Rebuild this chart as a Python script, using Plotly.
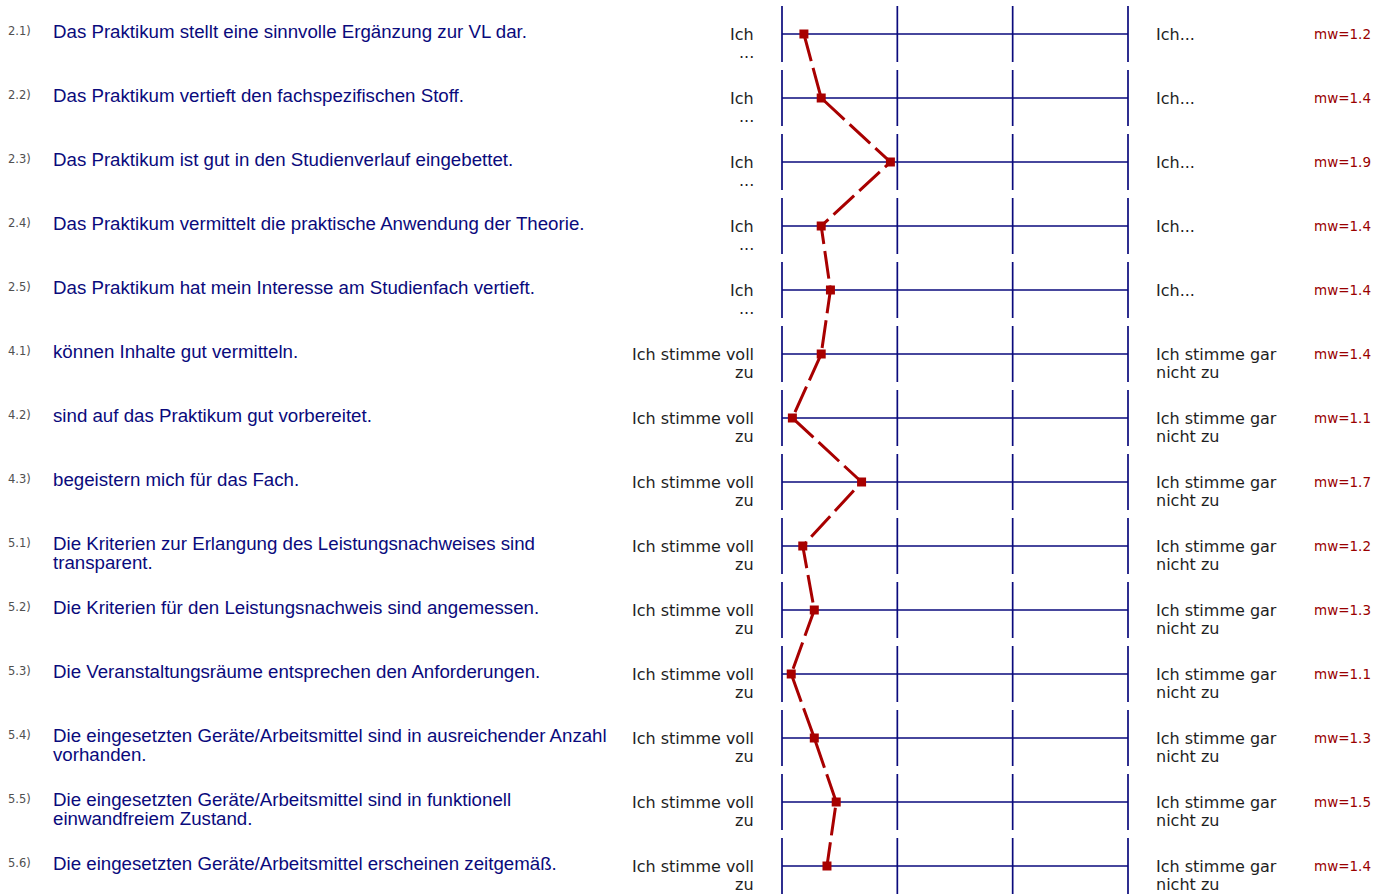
import plotly.graph_objects as go

# ---------------- data ----------------
item_numbers = ["2.1)", "2.2)", "2.3)", "2.4)", "2.5)", "4.1)", "4.2)", "4.3)",
                "5.1)", "5.2)", "5.3)", "5.4)", "5.5)", "5.6)"]
questions = [
    "Das Praktikum stellt eine sinnvolle Ergänzung zur VL dar.",
    "Das Praktikum vertieft den fachspezifischen Stoff.",
    "Das Praktikum ist gut in den Studienverlauf eingebettet.",
    "Das Praktikum vermittelt die praktische Anwendung der Theorie.",
    "Das Praktikum hat mein Interesse am Studienfach vertieft.",
    "können Inhalte gut vermitteln.",
    "sind auf das Praktikum gut vorbereitet.",
    "begeistern mich für das Fach.",
    "Die Kriterien zur Erlangung des Leistungsnachweises sind\ntransparent.",
    "Die Kriterien für den Leistungsnachweis sind angemessen.",
    "Die Veranstaltungsräume entsprechen den Anforderungen.",
    "Die eingesetzten Geräte/Arbeitsmittel sind in ausreichender Anzahl\nvorhanden.",
    "Die eingesetzten Geräte/Arbeitsmittel sind in funktionell\neinwandfreiem Zustand.",
    "Die eingesetzten Geräte/Arbeitsmittel erscheinen zeitgemäß.",
]
left_poles = ["Ich\n..."] * 5 + ["Ich stimme voll\nzu"] * 9
right_poles = ["Ich..."] * 5 + ["Ich stimme gar\nnicht zu"] * 9
means = [1.19, 1.34, 1.94, 1.34, 1.42, 1.34, 1.09, 1.69,
         1.18, 1.28, 1.08, 1.28, 1.47, 1.39]
mw_labels = ["1.2", "1.4", "1.9", "1.4", "1.4", "1.4", "1.1", "1.7",
             "1.2", "1.3", "1.1", "1.3", "1.5", "1.4"]
scale_points = [1, 2, 3, 4]

# ---------------- layout constants ----------------
W, H = 1386, 895
X_LEFT_PX, X_RIGHT_PX = 782, 1128
ROW0_PX, ROW_STEP_PX = 34, 64
SEG_HALF = 28 / ROW_STEP_PX

ppu = (X_RIGHT_PX - X_LEFT_PX) / (scale_points[-1] - scale_points[0])
x_range = [scale_points[0] - X_LEFT_PX / ppu,
           scale_points[-1] + (W - X_RIGHT_PX) / ppu]
y_range = [(H - ROW0_PX) / ROW_STEP_PX, -ROW0_PX / ROW_STEP_PX]

NAVY = "#0a0a7c"
RED = "#a80000"
TEXT = "#1e1e1e"

rows = list(range(len(questions)))

fig = go.Figure()

# vertical scale segments per row
vx, vy = [], []
for i in rows:
    for s in scale_points:
        vx += [s, s, None]
        vy += [i - SEG_HALF, i + SEG_HALF, None]
fig.add_trace(go.Scatter(x=vx, y=vy, mode="lines",
                         line=dict(color=NAVY, width=1.7),
                         hoverinfo="skip", showlegend=False))

# horizontal row lines
hx, hy = [], []
for i in rows:
    hx += [scale_points[0], scale_points[-1], None]
    hy += [i, i, None]
fig.add_trace(go.Scatter(x=hx, y=hy, mode="lines",
                         line=dict(color=NAVY, width=1.5),
                         hoverinfo="skip", showlegend=False))

# profile line
fig.add_trace(go.Scatter(x=means, y=rows, mode="lines+markers",
                         line=dict(color=RED, width=3, dash="28px,7px"),
                         marker=dict(symbol="square", size=9, color=RED),
                         showlegend=False))

ann = []
LINE_SP = 18.5
def add_lines(text, row, xpx, xanchor, font, first_shift, spacing=LINE_SP):
    for k, line in enumerate(text.split("\n")):
        ann.append(dict(text=line, x=xpx / W, xref="paper", y=row, yref="y",
                        xanchor=xanchor, yanchor="middle",
                        yshift=-(first_shift + k * spacing),
                        showarrow=False, font=font))

f_num = dict(family="DejaVu Sans", size=11.5, color="#505050")
f_q = dict(family="Liberation Sans, Arial", size=18.7, color=NAVY)
f_pole = dict(family="DejaVu Sans", size=16, color=TEXT)
f_mw = dict(family="DejaVu Sans", size=13.5, color="#990000")

for i in rows:
    add_lines(item_numbers[i], i, 6, "left", f_num, -3)
    add_lines(questions[i], i, 51, "left", f_q, -3, 19)
    add_lines(left_poles[i], i, 756, "right", f_pole, 0)
    add_lines(right_poles[i], i, 1154, "left", f_pole, 0)
    add_lines("mw=" + mw_labels[i], i, 1373, "right", f_mw, 0)

fig.update_layout(
    width=W, height=H, autosize=False,
    margin=dict(l=0, r=0, t=0, b=0, pad=0),
    paper_bgcolor="white", plot_bgcolor="white",
    xaxis=dict(range=x_range, visible=False, fixedrange=True),
    yaxis=dict(range=y_range, visible=False, fixedrange=True),
    annotations=ann,
)

fig.write_html("out.html", config={"displayModeBar": False},
               post_script="document.body.style.margin='0';document.body.style.overflow='hidden';")
